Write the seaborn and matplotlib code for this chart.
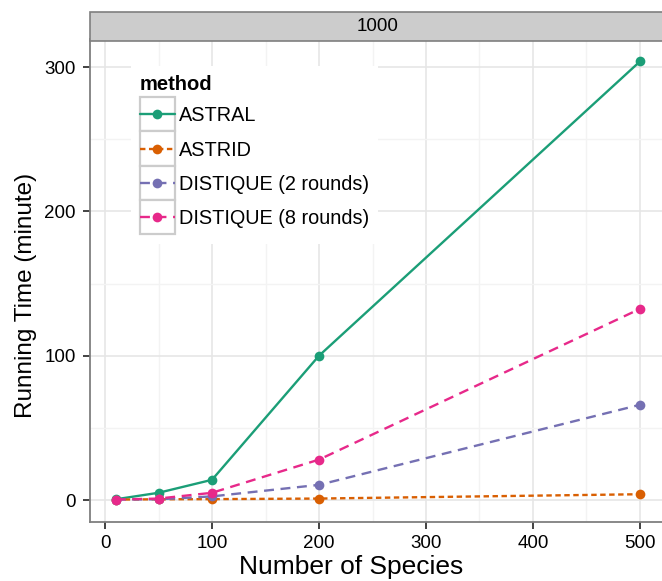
import numpy as np
import pandas as pd
import matplotlib
matplotlib.use("Agg")
import matplotlib.pyplot as plt
import seaborn as sns
from matplotlib.legend_handler import HandlerLine2D
from matplotlib.patches import Rectangle
from matplotlib.ticker import MultipleLocator

sns.set_theme(style="white")
plt.rcParams['font.family'] = ['Liberation Sans', 'DejaVu Sans']
plt.rcParams['text.color'] = 'black'
plt.rcParams['axes.labelcolor'] = 'black'

# ---- data ----
species = [10, 50, 100, 200, 500]
methods = ["ASTRAL", "ASTRID", "DISTIQUE (2 rounds)", "DISTIQUE (8 rounds)"]
astral = [0.5, 5, 14, 100, 304]
astrid = [0.3, 0.5, 0.6, 1.0, 4.0]
distique2 = [0.3, 0.5, 2.5, 10.5, 66]
distique8 = [0.3, 1.0, 5.0, 28, 132.5]
facet_label = "1000"

df = pd.DataFrame({
    "species": species * 4,
    "time": astral + astrid + distique2 + distique8,
    "method": sum([[m] * len(species) for m in methods], []),
})

palette = dict(zip(methods, ["#1B9E77", "#D95F02", "#7570B3", "#E7298A"]))
dashes = dict(zip(methods, ["", (2.3, 1.5), (4.2, 2.8), (4.2, 2.8)]))
markers = dict(zip(methods, ["o", "o", "o", "o"]))

fig = plt.figure(figsize=(6.62, 5.81), dpi=100)
W, H = 662, 581
AX_L, AX_B, AX_W, AX_H = 89.5, 521.5, 576.7, 482
ax = fig.add_axes([AX_L / W, 1 - AX_B / H, AX_W / W, AX_H / H])

sns.lineplot(data=df, x="species", y="time", hue="method", style="method",
             palette=palette, dashes=dashes, markers=markers,
             markersize=7, markeredgewidth=0, linewidth=1.7, ax=ax)

ax.set_xlim(-14.5, 524.5)
ax.set_ylim(-14.9, 319.2)
ax.xaxis.set_major_locator(MultipleLocator(100))
ax.xaxis.set_minor_locator(MultipleLocator(50))
ax.yaxis.set_major_locator(MultipleLocator(100))
ax.yaxis.set_minor_locator(MultipleLocator(50))
ax.grid(True, which="major", color="#e6e6e6", lw=1.2)
ax.grid(True, which="minor", color="#f3f3f3", lw=1.0)
ax.set_axisbelow(True)
ax.set_facecolor("white")

for s in ["top", "right"]:
    ax.spines[s].set_visible(False)
for s in ["left", "bottom"]:
    ax.spines[s].set_color("#7f7f7f")
    ax.spines[s].set_linewidth(1.3)

ax.tick_params(which="major", direction="out", length=5, width=1.2, color="#222222",
               labelsize=13.5, labelcolor="black", pad=5, bottom=True, left=True)
ax.tick_params(which="minor", length=0)

ax.set_xlabel("Number of Species", fontsize=19)
ax.set_ylabel("Running Time (minute)", fontsize=17.5)
ax.xaxis.set_label_coords((351 - AX_L) / AX_W, (AX_B - 555) / AX_H)
ax.yaxis.set_label_coords((37 - AX_L) / AX_W, (AX_B - 295) / AX_H)

# strip
strip = Rectangle((AX_L / W, 1 - 41 / H), AX_W / W, 29 / H, transform=fig.transFigure,
                  facecolor="#cccccc", edgecolor="#7f7f7f", lw=1.2, clip_on=False)
fig.add_artist(strip)
fig.text((AX_L + AX_W / 2) / W, 1 - 26.5 / H, facet_label, ha="center", va="center",
         fontsize=13.5, color="black")

# legend with boxed keys
class BoxHandler(HandlerLine2D):
    def create_artists(self, legend, orig_handle, xdescent, ydescent, width, height,
                       fontsize, trans):
        arts = list(super().create_artists(legend, orig_handle, xdescent, ydescent,
                                           width, height, fontsize, trans))
        yc = 0.36 * fontsize
        for a in arts:
            a.set_ydata([yc] * len(a.get_xdata()))
        rect = Rectangle((-xdescent, yc - height / 2), width, height,
                         facecolor="white", edgecolor="#cccccc", lw=1.6, transform=trans)
        return [rect] + arts

handles, labels = ax.get_legend_handles_labels()
if ax.get_legend() is not None:
    ax.get_legend().remove()
pairs = [(h, l) for h, l in zip(handles, labels) if l in methods]
handles = [p[0] for p in pairs]
labels = [p[1] for p in pairs]
leg = fig.legend(handles, labels, title="method", loc="upper left",
                 bbox_to_anchor=(131 / W, 1 - 66 / H),
                 handler_map={h: BoxHandler(numpoints=1, marker_pad=0.1) for h in handles},
                 fontsize=14.3, title_fontsize=14.5, frameon=True, facecolor="white",
                 edgecolor="none", fancybox=False, framealpha=1,
                 handlelength=1.76, handleheight=2.28, labelspacing=0.0,
                 handletextpad=0.2, borderpad=0.45, borderaxespad=0)
leg.get_title().set_fontweight("bold")
leg._legend_box.align = "left"
leg._legend_box.sep = 3.0

fig.savefig("out.png", dpi=100)
